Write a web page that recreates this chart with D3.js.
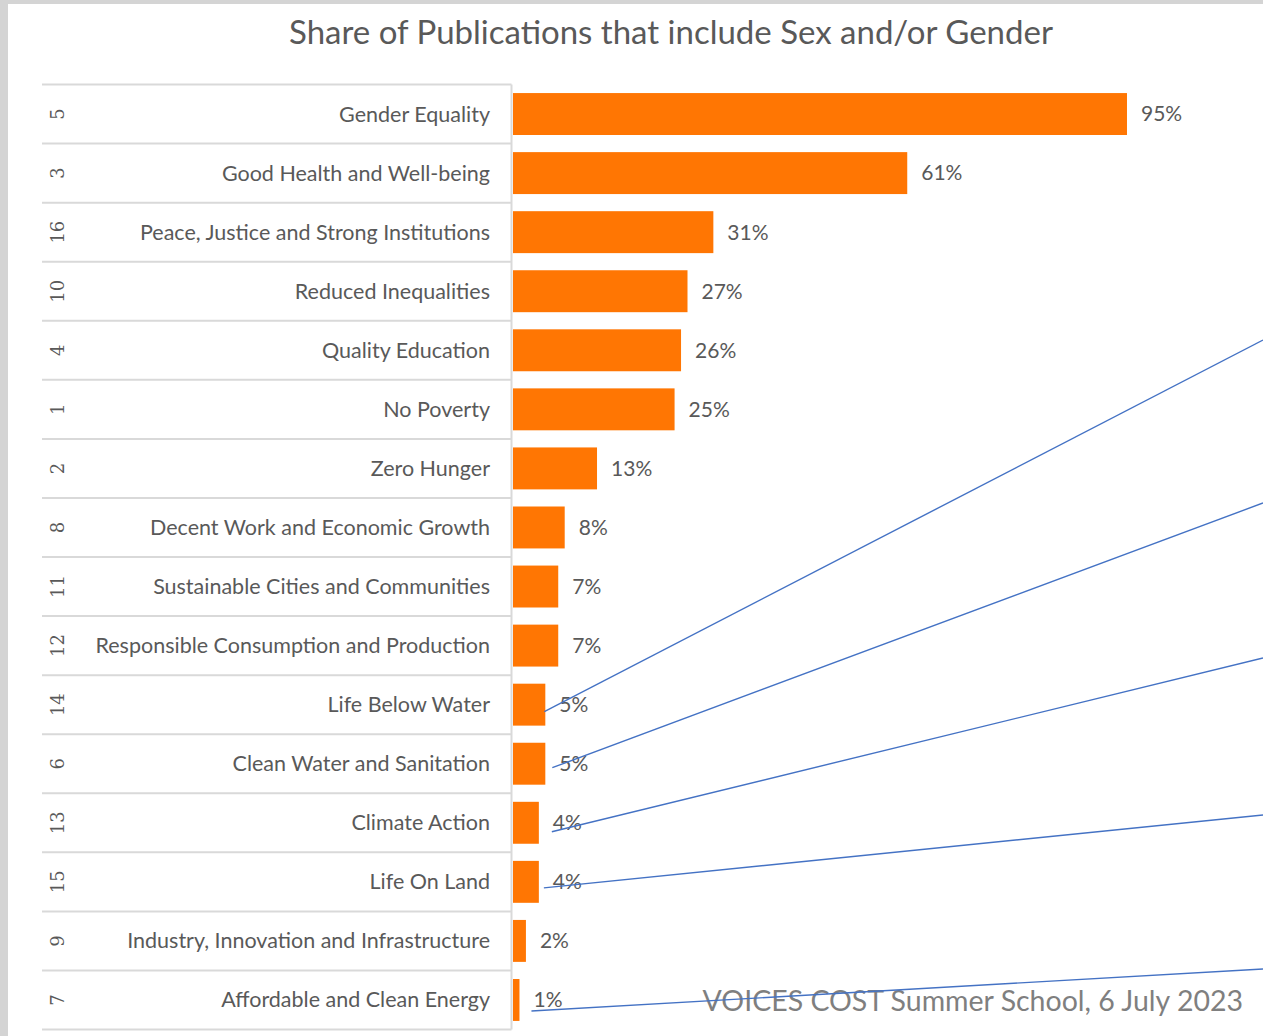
<!DOCTYPE html>
<html>
<head>
<meta charset="utf-8">
<script src="https://cdn.jsdelivr.net/npm/d3@7"></script>
<style>
  html, body { margin: 0; padding: 0; background: #d4d4d4; }
  svg { display: block; }
</style>
</head>
<body>
<svg id="chart" width="1263" height="1036"></svg>
<script>
// SDG goals, ordered by share of publications
const goalNumbers = ["5", "3", "16", "10", "4", "1", "2", "8", "11", "12", "14", "6", "13", "15", "9", "7"];
const goalNames = [
  "Gender Equality",
  "Good Health and Well-being",
  "Peace, Justice and Strong Institutions",
  "Reduced Inequalities",
  "Quality Education",
  "No Poverty",
  "Zero Hunger",
  "Decent Work and Economic Growth",
  "Sustainable Cities and Communities",
  "Responsible Consumption and Production",
  "Life Below Water",
  "Clean Water and Sanitation",
  "Climate Action",
  "Life On Land",
  "Industry, Innovation and Infrastructure",
  "Affordable and Clean Energy"
];
const sharePercent = [95, 61, 31, 27, 26, 25, 13, 8, 7, 7, 5, 5, 4, 4, 2, 1];

// Goals singled out with leader lines running off to the right
const highlightedGoals = ["Life Below Water", "Clean Water and Sanitation", "Climate Action", "Life On Land", "Affordable and Clean Energy"];

const titleText = "Share of Publications that include Sex and/or Gender";
const footerText = "VOICES COST Summer School, 6 July 2023";

const W = 1263, H = 1036;
const svg = d3.select("#chart");
const grey = "#595959";
const font = "Lato, 'Open Sans', sans-serif";

// page background (white sheet with a thin grey frame on the top and left)
svg.append("rect").attr("x", 0).attr("y", 0).attr("width", W).attr("height", H).attr("fill", "#d4d4d4");
svg.append("rect").attr("x", 8).attr("y", 4).attr("width", W - 8).attr("height", H - 4).attr("fill", "#ffffff");

const rows = goalNames.map((name, i) => ({ num: goalNumbers[i], name, v: sharePercent[i] }));

const plotTop = 84.5, plotBottom = 1029.5;
const axisX = 511.5, tableLeft = 42;

const y = d3.scaleBand().domain(goalNames).range([plotTop, plotBottom]).paddingInner(0.29).paddingOuter(0.145);
const yRow = d3.scaleBand().domain(goalNames).range([plotTop, plotBottom]).padding(0);
const x = d3.scaleLinear().domain([0, 100]).range([513, 1159.3]);

// title
svg.append("text")
  .attr("x", 671).attr("y", 44)
  .attr("text-anchor", "middle")
  .attr("font-family", font).attr("font-size", 33)
  .attr("fill", grey)
  .text(titleText);

// category table: row separators
const sepYs = goalNames.map(n => yRow(n)).concat([plotBottom]);
svg.append("g").selectAll("line").data(sepYs).join("line")
  .attr("x1", tableLeft).attr("x2", axisX)
  .attr("y1", d => d).attr("y2", d => d)
  .attr("stroke", "#d9d9d9").attr("stroke-width", 2);

// vertical category axis line
svg.append("line")
  .attr("x1", axisX).attr("x2", axisX).attr("y1", plotTop).attr("y2", plotBottom)
  .attr("stroke", "#d9d9d9").attr("stroke-width", 2);

// goal names
svg.append("g").selectAll("text").data(rows).join("text")
  .attr("x", 490)
  .attr("y", d => yRow(d.name) + yRow.bandwidth() / 2)
  .attr("dy", "0.35em")
  .attr("text-anchor", "end")
  .attr("font-family", font).attr("font-size", 21.5)
  .attr("fill", grey)
  .text(d => d.name);

// goal numbers, rotated
svg.append("g").selectAll("text").data(rows).join("text")
  .attr("transform", d => `translate(58,${yRow(d.name) + yRow.bandwidth() / 2}) rotate(-90)`)
  .attr("dy", "0.35em")
  .attr("text-anchor", "middle")
  .attr("font-family", "'DejaVu Serif', 'Liberation Serif', serif").attr("font-size", 18)
  .attr("fill", grey)
  .text(d => d.num);

// bars
svg.append("g").selectAll("rect").data(rows).join("rect")
  .attr("x", x(0))
  .attr("y", d => y(d.name))
  .attr("width", d => x(d.v) - x(0))
  .attr("height", y.bandwidth())
  .attr("fill", "#ff7603");

// value labels
svg.append("g").selectAll("text").data(rows).join("text")
  .attr("x", d => x(d.v) + 14)
  .attr("y", d => y(d.name) + y.bandwidth() / 2)
  .attr("dy", "0.35em")
  .attr("font-family", font).attr("font-size", 21)
  .attr("fill", grey)
  .text(d => d3.format(".0f")(d.v) + "%");

// footer
svg.append("text")
  .attr("x", 1243).attr("y", 1011)
  .attr("text-anchor", "end")
  .attr("font-family", font).attr("font-size", 28.5)
  .attr("fill", "#7f7f7f")
  .text(footerText);

// leader lines: start near each highlighted bar, run to the right edge
const leaderLayout = [
  { dx: -1, dy: 7, edgeY: 340 },
  { dx: 7, dy: 4, edgeY: 503 },
  { dx: 13, dy: 9, edgeY: 658 },
  { dx: 5, dy: 6, edgeY: 815 },
  { dx: 12, dy: 11, edgeY: 969 }
];
const leaders = highlightedGoals.map((name, i) => {
  const r = rows.find(d => d.name === name);
  const L = leaderLayout[i];
  return {
    x1: x(r.v) + L.dx,
    y1: y(name) + y.bandwidth() / 2 + L.dy,
    x2: W,
    y2: L.edgeY
  };
});
svg.append("g").selectAll("line").data(leaders).join("line")
  .attr("x1", d => d.x1).attr("y1", d => d.y1)
  .attr("x2", d => d.x2).attr("y2", d => d.y2)
  .attr("stroke", "#4472c4").attr("stroke-width", 1.4);
</script>
</body>
</html>
